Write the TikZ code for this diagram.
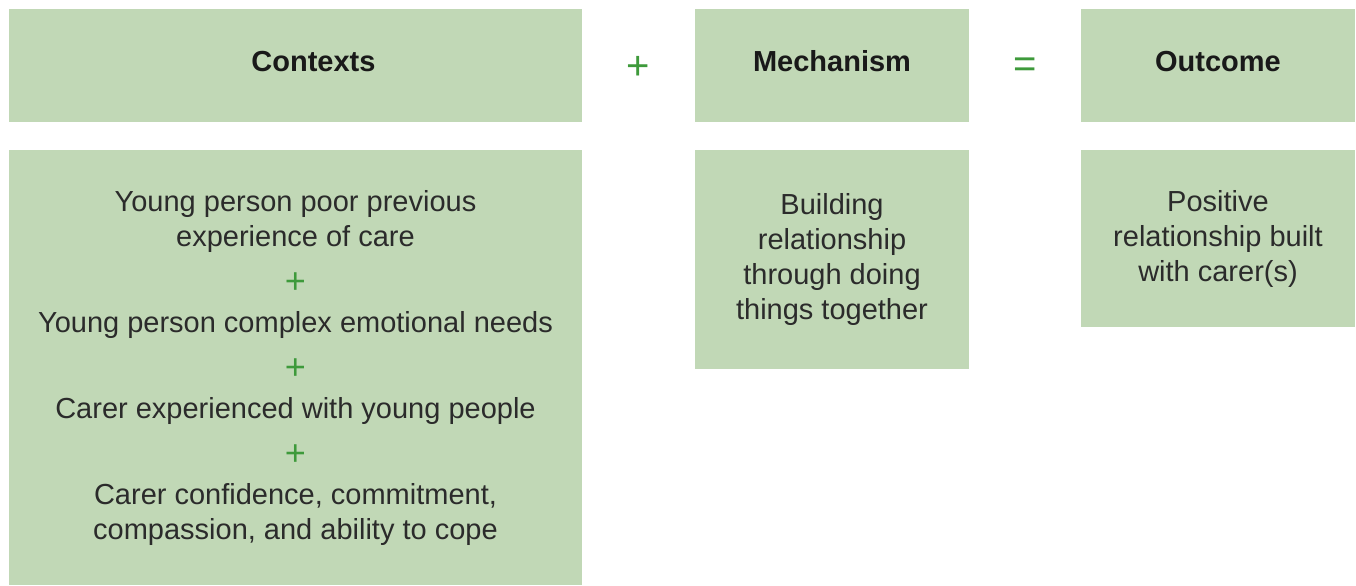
\documentclass[tikz,border=0pt]{standalone}
\usepackage{fontspec}
\setmainfont{Liberation Sans}
\usepackage{xcolor}
\usetikzlibrary{positioning,calc}

\definecolor{boxgreen}{HTML}{C1D8B6}
\definecolor{signgreen}{HTML}{3E9A3B}
\definecolor{textgray}{HTML}{2B2B2B}

\tikzset{
  cmobox/.style={fill=boxgreen, inner sep=0pt, outer sep=0pt, align=center, text=textgray,
    font=\fontsize{14.5}{17.5}\selectfont},
  headbox/.style={cmobox, minimum height=56.5pt, text depth=4.5pt,
    font=\fontsize{14.5}{17.5}\selectfont\bfseries, text=black!90},
  sign/.style={text=signgreen, font=\fontsize{20}{20}\selectfont, inner sep=0pt}
}

\newcommand{\plusline}{\\[6pt]{\color{signgreen}\fontsize{18}{18}\selectfont +}\\[2pt]}

\begin{document}
\begin{tikzpicture}
  \useasboundingbox (0,0) rectangle (678pt,-292.5pt);

  % top row
  \node[headbox, minimum width=286.5pt, anchor=north west] (ctxhead) at (4.5pt,-4.5pt) {\hspace*{18pt}Contexts};
  \node[headbox, minimum width=137pt, right=56.5pt of ctxhead] (mechhead) {Mechanism};
  \node[headbox, minimum width=137pt, right=56pt of mechhead] (outhead) {Outcome};

  \node[sign] (plus) at ($(ctxhead.east)!0.5!(mechhead.west)+(0,-1pt)$) {+};
  \node[sign] (equals) at ($(mechhead.east)!0.5!(outhead.west)+(0,-1pt)$) {=};

  % bottom row
  \node[cmobox, minimum width=286.5pt, minimum height=217.5pt, below=14pt of ctxhead] (ctxbody)
    {Young person poor previous\\experience of care\plusline
     Young person complex emotional needs\plusline
     Carer experienced with young people\plusline
     Carer confidence, commitment,\\compassion, and ability to cope};
  \node[cmobox, minimum width=137pt, minimum height=109.5pt, below=14pt of mechhead] (mechbody)
    {Building\\relationship\\through doing\\things together};
  \node[cmobox, minimum width=137pt, minimum height=88.5pt, below=14pt of outhead] (outbody)
    {Positive\\relationship built\\with carer(s)};
\end{tikzpicture}
\end{document}
